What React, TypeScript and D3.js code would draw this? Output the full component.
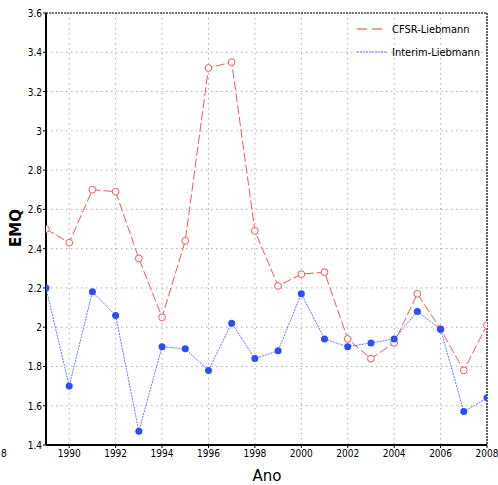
import React from "react";
import * as d3 from "d3";

// Annual RMSE (EMQ) of two reanalyses against the Liebmann dataset
const years = [1989, 1990, 1991, 1992, 1993, 1994, 1995, 1996, 1997, 1998, 1999, 2000, 2001, 2002, 2003, 2004, 2005, 2006, 2007, 2008];
const cfsr = [2.5, 2.43, 2.7, 2.69, 2.35, 2.05, 2.44, 3.32, 3.35, 2.49, 2.21, 2.27, 2.28, 1.94, 1.84, 1.92, 2.17, 1.99, 1.78, 2.01];
const interim = [2.2, 1.7, 2.18, 2.06, 1.47, 1.9, 1.89, 1.78, 2.02, 1.84, 1.88, 2.17, 1.94, 1.9, 1.92, 1.94, 2.08, 1.99, 1.57, 1.64];
const yTicks = [1.4, 1.6, 1.8, 2, 2.2, 2.4, 2.6, 2.8, 3, 3.2, 3.4, 3.6];
const xTicks = [1990, 1992, 1994, 1996, 1998, 2000, 2002, 2004, 2006, 2008];
const seriesNames = ["CFSR-Liebmann", "Interim-Liebmann"];

const W = 498;
const H = 485;
const left = 46, right = 487, top = 13, bottom = 445;

export default function App() {
  const x = d3.scaleLinear().domain([1989, 2008]).range([left, right]);
  const y = d3.scaleLinear().domain([1.4, 3.6]).range([bottom, top]);
  const line = d3.line<number>().x((_, i) => x(years[i])).y((v) => y(v));
  const tickFont = "'Liberation Sans Narrow', 'DejaVu Sans Condensed', Arial, sans-serif";
  const red = "#f05a5a";
  const blue = "#2b4cff";

  return (
    <svg width={W} height={H} style={{ position: "absolute", left: 0, top: 0, background: "#fff" }}>
      <defs>
        <clipPath id="plotClip">
          <rect x={left} y={top} width={right - left} height={bottom - top} />
        </clipPath>
      </defs>
      {/* grid */}
      {yTicks.map((t) => (
        <line key={"gy" + t} x1={left} x2={right} y1={y(t)} y2={y(t)} stroke="#b0b0b0" strokeWidth={1} strokeDasharray="1.5,3.5" />
      ))}
      {xTicks.map((t) => (
        <line key={"gx" + t} x1={x(t)} x2={x(t)} y1={top} y2={bottom} stroke="#b0b0b0" strokeWidth={1} strokeDasharray="1.5,3.5" />
      ))}
      {/* frame: solid left/bottom, dashed top/right */}
      <line x1={left} x2={right} y1={top} y2={top} stroke="#000" strokeWidth={1.2} strokeDasharray="2,1" />
      <line x1={right} x2={right} y1={top} y2={bottom} stroke="#000" strokeWidth={1.2} strokeDasharray="2,1" />
      <line x1={left} x2={left} y1={top} y2={bottom} stroke="#000" strokeWidth={2} />
      <line x1={left} x2={right} y1={bottom} y2={bottom} stroke="#000" strokeWidth={2} />

      {/* series */}
      <g clipPath="url(#plotClip)">
        <path d={line(cfsr) || ""} fill="none" stroke={red} strokeWidth={1} strokeDasharray="9,3" />
        <path d={line(interim) || ""} fill="none" stroke={blue} strokeWidth={1} strokeDasharray="2,1" opacity={0.75} />
        {cfsr.map((v, i) => (
          <circle key={"c" + i} cx={x(years[i])} cy={y(v)} r={3.4} fill="#fff" stroke={red} strokeWidth={1} />
        ))}
        {interim.map((v, i) => (
          <circle key={"b" + i} cx={x(years[i])} cy={y(v)} r={3.5} fill={blue} />
        ))}
      </g>

      {/* y ticks */}
      {yTicks.map((t) => (
        <g key={"ty" + t}>
          <line x1={left - 3} x2={left} y1={y(t)} y2={y(t)} stroke="#000" />
          <text x={left - 4} y={y(t) + 4} textAnchor="end" fontSize={10} fontFamily={tickFont} fill="#000">
            {String(t)}
          </text>
        </g>
      ))}
      {/* x ticks */}
      {xTicks.map((t) => (
        <g key={"tx" + t}>
          <line x1={x(t)} x2={x(t)} y1={bottom} y2={bottom + 3} stroke="#000" />
          <text x={x(t)} y={bottom + 12} textAnchor="middle" fontSize={10} fontFamily={tickFont} fill="#000">
            {String(t)}
          </text>
        </g>
      ))}
      <text x={1} y={bottom + 12} textAnchor="start" fontSize={10} fontFamily={tickFont} fill="#000">8</text>

      {/* axis titles */}
      <text x={267} y={481} textAnchor="middle" fontSize={15} fontFamily="'DejaVu Sans', Arial, sans-serif" fill="#000">Ano</text>
      <text transform={`translate(21,228) rotate(-90)`} textAnchor="middle" fontSize={15} fontWeight="bold" fontFamily="'DejaVu Sans', Arial, sans-serif" fill="#000">EMQ</text>

      {/* legend */}
      <line x1={357} x2={386} y1={29} y2={29} stroke="#ff9a9a" strokeWidth={2} strokeDasharray="10,5" />
      <text x={392} y={33} fontSize={11} fontFamily={tickFont} fill="#000">{seriesNames[0]}</text>
      <line x1={357} x2={386} y1={52} y2={52} stroke={blue} strokeWidth={1} strokeDasharray="2,1" opacity={0.75} />
      <text x={392} y={56} fontSize={11} fontFamily={tickFont} fill="#000">{seriesNames[1]}</text>
    </svg>
  );
}
